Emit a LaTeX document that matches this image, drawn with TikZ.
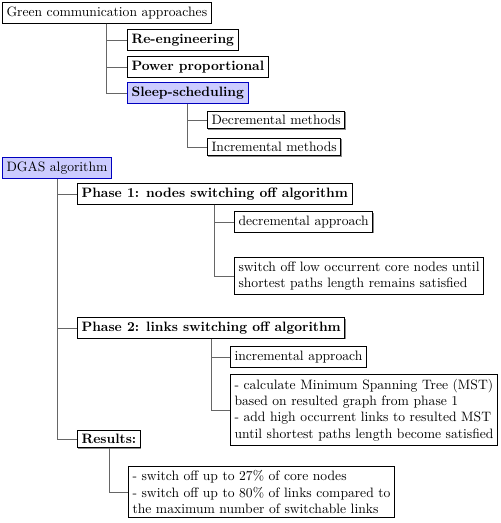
\documentclass[tikz,border=0pt]{standalone}
\usetikzlibrary{shadows}
\begin{document}
\begin{tikzpicture}[x=0.735pt,y=-0.735pt,
  box/.style={draw=black,line width=0.7pt,fill=white,inner sep=3pt,anchor=west,align=left,
    drop shadow={shadow xshift=0.6pt,shadow yshift=-0.6pt,fill=black!45,opacity=1}},
  hl/.style={box,draw=blue!75!black,fill=blue!20},
  conn/.style={draw=black!60,line width=0.6pt}]
\useasboundingbox (0,0) rectangle (500,523);
\node[box] (green) at (2,13) {Green communication approaches};
\node[box] (reeng) at (127,40) {\textbf{Re-engineering}};
\node[box] (power) at (127,67) {\textbf{Power proportional}};
\node[hl] (sleep) at (127,93) {\textbf{Sleep-scheduling}};
\node[box] (decr) at (207,120) {Decremental methods};
\node[box] (incr) at (207,147) {Incremental methods};
\node[hl] (dgas) at (2,168) {DGAS algorithm};
\node[box] (p1) at (77,194) {\textbf{Phase 1: nodes switching off algorithm}};
\node[box] (da) at (234,222) {decremental approach};
\node[box] (sw) at (234,276) {switch off low occurrent core nodes until\\shortest paths length remains satisfied};
\node[box] (p2) at (77,328) {\textbf{Phase 2: links switching off algorithm}};
\node[box] (ia) at (230,357) {incremental approach};
\node[box] (mst) at (230,410) {- calculate Minimum Spanning Tree (MST)\\based on resulted graph from phase 1\\- add high occurrent links to resulted MST\\until shortest paths length become satisfied};
\node[box] (res) at (77,439) {\textbf{Results:}};
\node[box] (resbox) at (128,492) {- switch off up to 27\% of core nodes\\- switch off up to 80\% of links compared to\\the maximum number of switchable links};
\draw[conn] (green.south) |- (reeng.west);
\draw[conn] (green.south) |- (power.west);
\draw[conn] (green.south) |- (sleep.west);
\draw[conn] (sleep.south) |- (decr.west);
\draw[conn] (sleep.south) |- (incr.west);
\draw[conn] (dgas.south) |- (p1.west);
\draw[conn] (dgas.south) |- (p2.west);
\draw[conn] (dgas.south) |- (res.west);
\draw[conn] (p1.south) |- (da.west);
\draw[conn] (p1.south) |- (sw.west);
\draw[conn] (p2.south) |- (ia.west);
\draw[conn] (p2.south) |- (mst.west);
\draw[conn] (res.south) |- (resbox.west);
\end{tikzpicture}
\end{document}
